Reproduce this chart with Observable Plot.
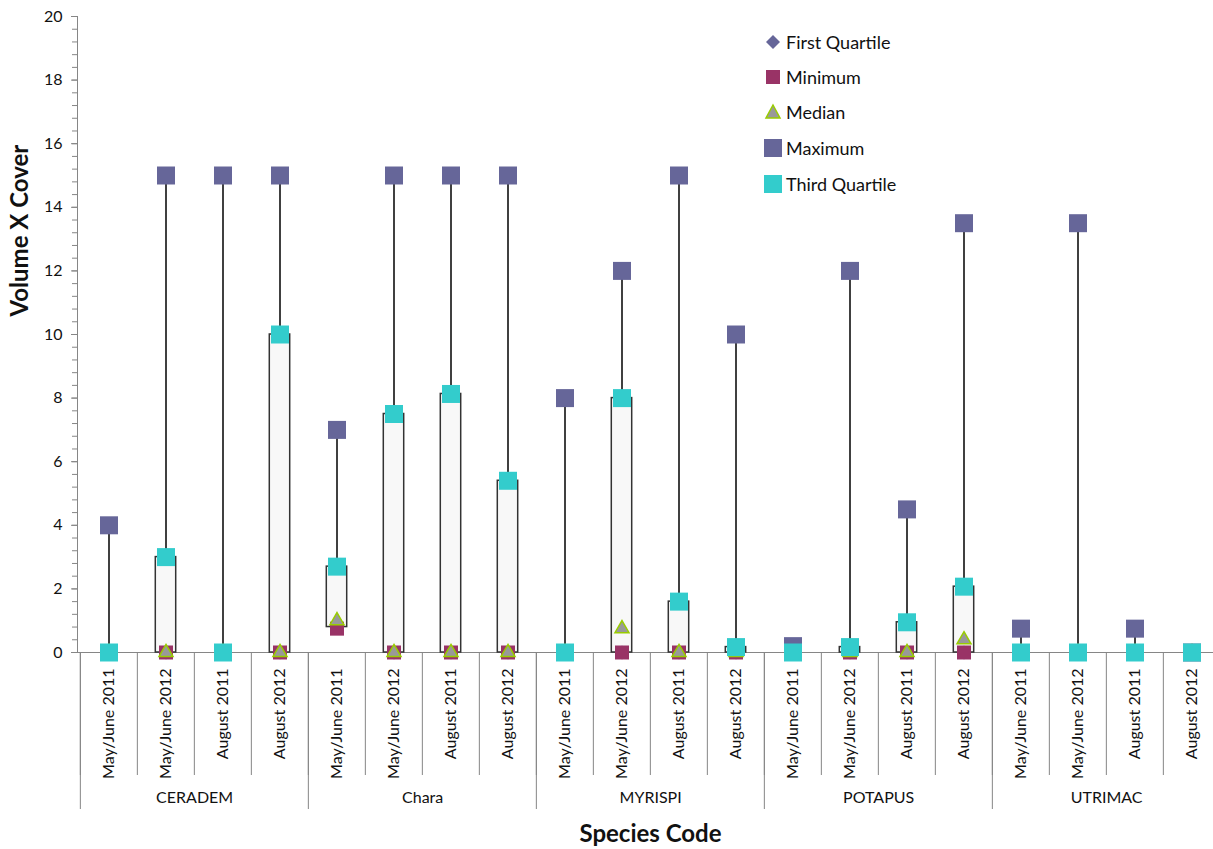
<!DOCTYPE html>
<html><head><meta charset="utf-8">
<script src="https://cdn.jsdelivr.net/npm/d3@7"></script>
<script src="https://cdn.jsdelivr.net/npm/@observablehq/plot@0.6"></script>
<style>
html,body{margin:0;padding:0;background:#fff;overflow:hidden;}
#wrap{position:relative;width:1213px;height:849px;overflow:hidden;font-family:Lato,sans-serif;}
#chart svg{max-width:none !important;}
#legend{position:absolute;left:0;top:0;}
.item{position:absolute;display:flex;align-items:center;height:30px;font-size:18px;color:#111;white-space:nowrap;}
</style></head><body><div id="wrap"><div id="chart"></div><div id="legend"></div></div>
<script>
const species = ["CERADEM", "Chara", "MYRISPI", "POTAPUS", "UTRIMAC"];
const periods = ["May/June 2011", "May/June 2012", "August 2011", "August 2012"];
const yMajorTicks = [0, 2, 4, 6, 8, 10, 12, 14, 16, 18, 20];
// values per category, order: species x periods
const minimum       = [0, 0, 0, 0,   0.75, 0, 0, 0,   0, 0, 0, 0,      0, 0, 0, 0,      0, 0, 0, 0];
const firstQuartile = [0, 0, 0, 0,   0.8, 0, 0, 0,    0, 0, 0, 0,      0, 0, 0, 0,      0, 0, 0, 0];
const median        = [0, 0, 0, 0,   1.0, 0, 0, 0,    0, 0.75, 0, 0,   0, 0, 0, 0.4,    0, 0, 0, 0];
const thirdQuartile = [0, 3, 0, 10,  2.7, 7.5, 8.13, 5.4,  0, 8, 1.6, 0.17,  0, 0.17, 0.95, 2.07,  0, 0, 0, 0];
const maximum       = [4, 15, 15, 15,  7, 15, 15, 15,  8, 12, 15, 10,  0.2, 12, 4.5, 13.5,  0.75, 13.5, 0.75, 0];

const seriesNames = ["First Quartile", "Minimum", "Median", "Maximum", "Third Quartile"];
const seriesColors = ["#666699", "#993366", "#999999", "#666699", "#33cccc"];

const keys = [];
species.forEach(s => periods.forEach(p => keys.push(s + "|" + p)));
const rows = keys.map((k, i) => ({
  key: k, min: minimum[i], q1: firstQuartile[i], median: median[i], q3: thirdQuartile[i], max: maximum[i]
}));
const groupStarts = species.map(s => s + "|" + periods[0]);
const minorTicks = d3.range(0, 50).map(i => +(i * 0.4).toFixed(1)).filter(v => v <= 20);

const W = 1223, H = 849, mL = 77, mR = 0, mT = 16, mB = 197;
const bw = (W - mL - mR) / keys.length;
const gray = "#868686";
const sqMax = 18 / Math.sqrt(Math.PI);
const sqMin = 14 / Math.sqrt(Math.PI);

const plot = Plot.plot({
  width: W, height: H, marginLeft: mL, marginRight: mR, marginTop: mT, marginBottom: mB,
  style: {fontFamily: "Lato, sans-serif", fontSize: "16px", color: "#111", background: "#fff", overflow: "visible", maxWidth: "none"},
  x: {domain: keys, padding: 0},
  y: {domain: [0, 20]},
  marks: [
    Plot.frame({anchor: "left", stroke: gray}),
    Plot.ruleY([0], {stroke: gray}),
    Plot.axisY({ticks: minorTicks, tickSize: 5, text: null, stroke: gray, strokeOpacity: 1, label: null}),
    Plot.axisY({ticks: yMajorTicks, tickSize: 6, tickPadding: 9, stroke: gray, strokeOpacity: 1, fontSize: 16, label: null}),
    Plot.axisX({ticks: keys, tickSize: 123, dx: -bw / 2, text: null, stroke: gray, strokeOpacity: 1, label: null}),
    Plot.axisX({ticks: groupStarts, tickSize: 157, dx: -bw / 2, text: null, stroke: gray, strokeOpacity: 1, label: null}),
    Plot.axisX({ticks: keys, tickSize: 0, tickPadding: 16, tickRotate: -90, fontSize: 16, tickFormat: k => k.split("|")[1], label: null}),
    Plot.text(species, {x: s => s + "|" + periods[1], dx: bw / 2, frameAnchor: "bottom", dy: 150, fontSize: 16}),
    Plot.text(["Volume X Cover"], {frameAnchor: "left", rotate: -90, dx: -57, dy: -18, fontSize: 24, fontWeight: "bold"}),
    Plot.text(["Species Code"], {frameAnchor: "bottom", dy: 189, fontSize: 24, fontWeight: "bold"}),
    Plot.ruleX(rows, {x: "key", y1: "min", y2: "max", stroke: "#000", strokeWidth: 1.5}),
    Plot.barY(rows, {x: "key", y1: "q1", y2: "q3", fill: "#f8f8f8", stroke: "#333", strokeWidth: 1.5, insetLeft: 18.3, insetRight: 18.3}),
    Plot.dot(rows, {x: "key", y: "q1", symbol: "diamond2", r: 6.3, fill: seriesColors[0]}),
    Plot.dot(rows, {x: "key", y: "min", symbol: "square", r: sqMin, fill: seriesColors[1]}),
    Plot.dot(rows, {x: "key", y: "median", symbol: "triangle", r: 5.2, fill: seriesColors[2], stroke: "#99cc00", strokeWidth: 1.5}),
    Plot.dot(rows, {x: "key", y: "max", symbol: "square", r: sqMax, fill: seriesColors[3]}),
    Plot.dot(rows, {x: "key", y: "q3", symbol: "square", r: sqMax, fill: seriesColors[4]})
  ]
});
document.getElementById("chart").appendChild(plot);

// legend
const legendSymbols = [
  `<polygon points="13,6 20,13 13,20 6,13" fill="${seriesColors[0]}"/>`,
  `<rect x="6" y="6" width="14" height="14" fill="${seriesColors[1]}"/>`,
  `<polygon points="13,6 20,19 6,19" fill="${seriesColors[2]}" stroke="#99cc00" stroke-width="1.5"/>`,
  `<rect x="4" y="4" width="18" height="18" fill="${seriesColors[3]}"/>`,
  `<rect x="4" y="4" width="18" height="18" fill="${seriesColors[4]}"/>`
];
const legendY = [42, 77, 112, 148, 184];
const leg = document.getElementById("legend");
seriesNames.forEach((name, i) => {
  const d = document.createElement("div");
  d.className = "item";
  d.style.left = "760px";
  d.style.top = (legendY[i] - 15) + "px";
  d.innerHTML = `<svg width="26" height="26" viewBox="0 0 26 26">${legendSymbols[i]}</svg><span>${name}</span>`;
  leg.appendChild(d);
});
</script>
</body></html>
